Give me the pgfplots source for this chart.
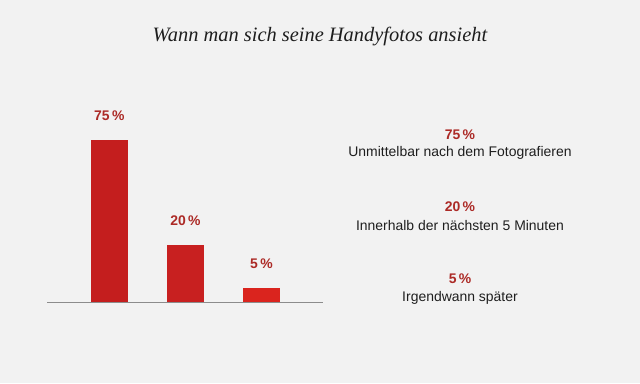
\documentclass[border=0pt]{standalone}
\usepackage{pgfplots}
\pgfplotsset{compat=1.18}
\usepackage{fontspec}
\setmainfont{Liberation Sans}
\newfontfamily\titlefont{Liberation Serif}
\definecolor{bg}{RGB}{242,242,242}
\definecolor{barA}{RGB}{196,30,30}
\definecolor{barB}{RGB}{200,32,32}
\definecolor{barC}{RGB}{218,36,30}
\definecolor{lab}{RGB}{172,42,38}
\definecolor{txt}{RGB}{30,30,30}
\begin{document}
\begin{tikzpicture}[x=1bp,y=1bp]
\fill[bg] (0,0) rectangle (640,383);
\useasboundingbox (0,0) rectangle (640,383);
\node[font=\titlefont\itshape\fontsize{20.5}{24}\selectfont, text=txt] at (320,346) {Wann man sich seine Handyfotos ansieht};
\begin{axis}[
  at={(47bp,81bp)}, anchor=south west,
  scale only axis, width=276bp, height=162bp,
  xmin=-0.82, xmax=2.81, ymin=0, ymax=75,
  axis x line*=bottom, hide y axis,
  axis line style={draw=black!45, line width=0.6pt, -},
  xtick=\empty, ytick=\empty,
  ybar, bar width=37bp, bar shift=0pt,
  clip=false,
  point meta=explicit,
  nodes near coords={\pgfmathprintnumber[assume math mode=true]{\pgfplotspointmeta}\,\%},
  nodes near coords style={anchor=south, yshift=19bp, inner sep=0pt, text=lab, font=\bfseries\fontsize{14}{16}\selectfont},
]
\addplot[fill=barA, draw=none] coordinates {(0,75) [75]};
\addplot[fill=barB, draw=none] coordinates {(1,26.4) [20]};
\addplot[fill=barC, draw=none] coordinates {(2,6.5) [5]};
\end{axis}
\begin{scope}[every node/.style={inner sep=0pt, text=txt}]
\node[text=lab, font=\bfseries\fontsize{14}{16}\selectfont] at (460,248) {75\,\%};
\node[font=\fontsize{14}{16}\selectfont] at (460,230) {Unmittelbar nach dem Fotografieren};
\node[text=lab, font=\bfseries\fontsize{14}{16}\selectfont] at (460,176) {20\,\%};
\node[font=\fontsize{14}{16}\selectfont] at (460,157) {Innerhalb der nächsten 5 Minuten};
\node[text=lab, font=\bfseries\fontsize{14}{16}\selectfont] at (460,104) {5\,\%};
\node[font=\fontsize{14}{16}\selectfont] at (460,85) {Irgendwann später};
\end{scope}
\end{tikzpicture}
\end{document}
